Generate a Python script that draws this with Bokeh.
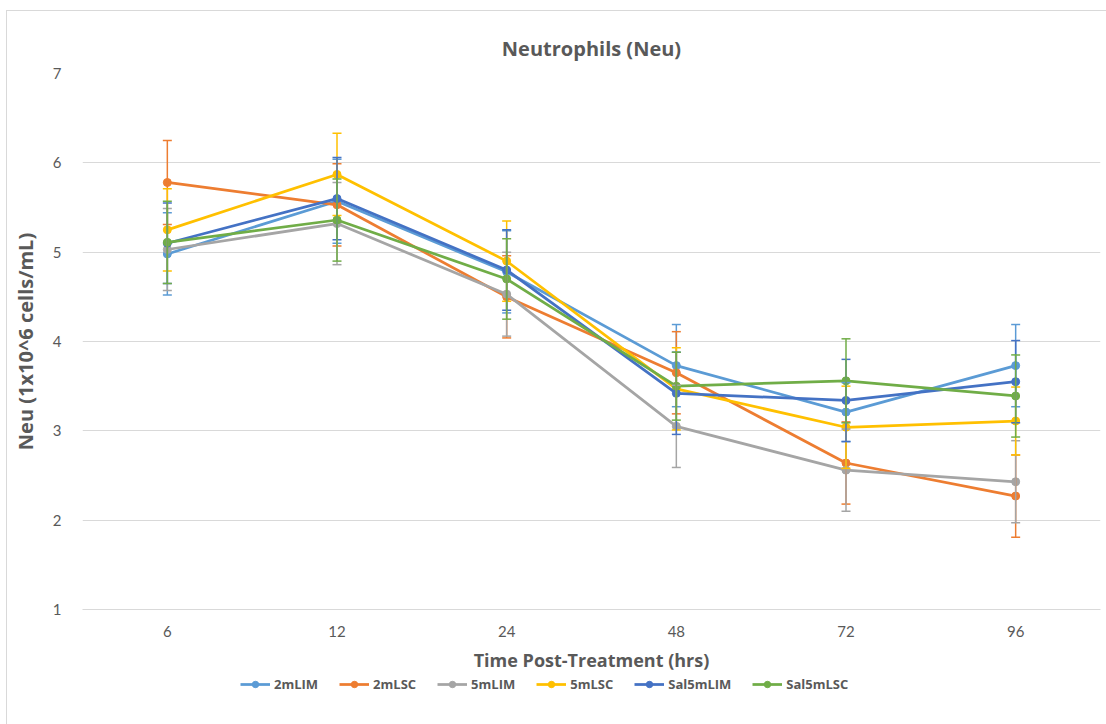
from bokeh.plotting import figure
from bokeh.layouts import column
from bokeh.models import ColumnDataSource, Whisker, TeeHead, Legend, LegendItem, FactorRange
from bokeh.embed import file_html
from bokeh.resources import INLINE

hours = ["6", "12", "24", "48", "72", "96"]

series_names = ["2mLIM", "2mLSC", "5mLIM", "5mLSC", "Sal5mLIM", "Sal5mLSC"]
colors = ["#5B9BD5", "#ED7D31", "#A5A5A5", "#FFC000", "#4472C4", "#70AD47"]

v_2mLIM = [4.98, 5.57, 4.78, 3.73, 3.21, 3.73]
v_2mLSC = [5.78, 5.53, 4.50, 3.65, 2.64, 2.27]
v_5mLIM = [5.03, 5.32, 4.53, 3.05, 2.56, 2.43]
v_5mLSC = [5.25, 5.87, 4.90, 3.47, 3.04, 3.11]
v_Sal5mLIM = [5.10, 5.60, 4.80, 3.42, 3.34, 3.55]
v_Sal5mLSC = [5.11, 5.36, 4.70, 3.50, 3.56, 3.39]

e_2mLIM = [0.46, 0.47, 0.46, 0.46, 0.33, 0.46]
e_2mLSC = [0.47, 0.46, 0.46, 0.46, 0.46, 0.46]
e_5mLIM = [0.46, 0.46, 0.47, 0.46, 0.46, 0.46]
e_5mLSC = [0.46, 0.46, 0.45, 0.46, 0.46, 0.38]
e_Sal5mLIM = [0.45, 0.46, 0.45, 0.46, 0.46, 0.46]
e_Sal5mLSC = [0.46, 0.46, 0.45, 0.38, 0.47, 0.46]

values = [v_2mLIM, v_2mLSC, v_5mLIM, v_5mLSC, v_Sal5mLIM, v_Sal5mLSC]
errors = [e_2mLIM, e_2mLSC, e_5mLIM, e_5mLSC, e_Sal5mLIM, e_Sal5mLSC]

y_ticks = [1, 2, 3, 4, 5, 6, 7]

FONT = "Open Sans"
TICKFONT = "Lato"
TXT = "#595959"

p = figure(x_range=FactorRange(*hours, range_padding=0), y_range=(1, 7),
           width=1099, height=663, output_backend="svg", toolbar_location=None,
           min_border_left=75, min_border_right=6, min_border_top=62, min_border_bottom=65)
p.outline_line_color = None

p.title.text = "Neutrophils (Neu)"
p.title.align = "center"
p.title.text_font = FONT
p.title.text_font_size = "20px"
p.title.text_font_style = "bold"
p.title.text_color = TXT
p.title.standoff = 24

p.yaxis.ticker = y_ticks
p.yaxis.axis_line_color = None
p.xaxis.axis_line_color = "#D9D9D9"
for ax in (p.xaxis, p.yaxis):
    ax.major_tick_line_color = None
    ax.minor_tick_line_color = None
    ax.major_label_text_font = TICKFONT
    ax.major_label_text_font_size = "15px"
    ax.major_label_text_color = TXT
    ax.axis_label_text_font = FONT
    ax.axis_label_text_font_style = "bold"
    ax.axis_label_text_color = TXT
p.xaxis.axis_label_text_font_size = "18px"
p.yaxis.axis_label_text_font_size = "20px"
p.xaxis.axis_label = "Time Post-Treatment (hrs)"
p.yaxis.axis_label = "Neu (1x10^6 cells/mL)"
p.xaxis.major_label_standoff = 10
p.xaxis.axis_label_standoff = 8
p.yaxis.major_label_standoff = 15
p.yaxis.axis_label_standoff = 11

p.xgrid.grid_line_color = None
p.ygrid.grid_line_color = "#D9D9D9"
p.ygrid.grid_line_width = 1

# legend lives in its own strip below the chart; its renderers sit outside the strip's visible range
lg = figure(x_range=FactorRange(*hours), y_range=(100, 101), width=1099, height=50,
            output_backend="svg", toolbar_location=None,
            min_border=0, min_border_left=0, min_border_right=0, min_border_top=0, min_border_bottom=0)
lg.axis.visible = False
lg.grid.visible = False
lg.outline_line_color = None

items = []
for name, col, vals, errs in zip(series_names, colors, values, errors):
    src = ColumnDataSource(dict(x=hours, y=vals,
                                upper=[v + e for v, e in zip(vals, errs)],
                                lower=[v - e for v, e in zip(vals, errs)]))
    w = Whisker(base="x", upper="upper", lower="lower", source=src,
                line_color=col, line_width=1.5, level="glyph",
                upper_head=TeeHead(size=9, line_color=col, line_width=1.5),
                lower_head=TeeHead(size=9, line_color=col, line_width=1.5))
    p.add_layout(w)
    p.line("x", "y", source=src, line_color=col, line_width=2.75)
    p.scatter("x", "y", source=src, size=8, fill_color=col, line_color=col)
    src2 = ColumnDataSource(dict(x=hours, y=vals))
    l1 = lg.line("x", "y", source=src2, line_color=col, line_width=2.75)
    l2 = lg.scatter("x", "y", source=src2, size=8, fill_color=col, line_color=col)
    items.append(LegendItem(label=name, renderers=[l1, l2]))

legend = Legend(items=items, orientation="horizontal", location=(158, 31),
                label_text_font=FONT, label_text_font_size="13px", label_text_font_style="bold",
                label_text_color=TXT, glyph_width=30, glyph_height=16, label_height=16,
                label_standoff=4, spacing=21,
                border_line_color=None, background_fill_alpha=0, padding=0, margin=0)
lg.add_layout(legend, "center")

lay = column(p, lg, spacing=0)
lay.margin = (11, 0, 0, 7)
lay.styles = {"outline": "1px solid #D9D9D9"}

open("out.html", "w").write(file_html(lay, INLINE))
